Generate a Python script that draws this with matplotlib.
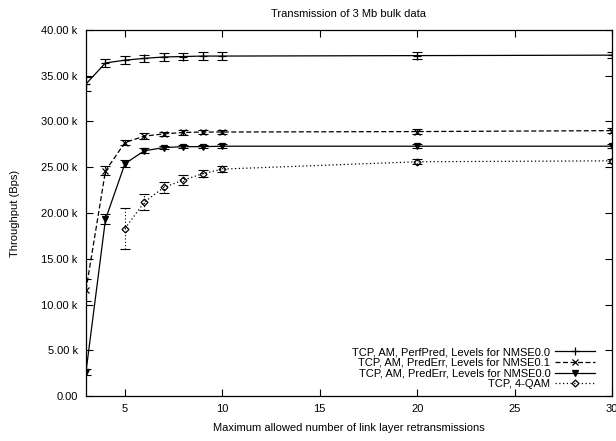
import numpy as np
import matplotlib
matplotlib.use('Agg')
import matplotlib.pyplot as plt
from matplotlib.ticker import FuncFormatter

plt.rcParams['font.family'] = ['Liberation Sans', 'DejaVu Sans']

retrans = [3, 4, 5, 6, 7, 8, 9, 10, 20, 30]

perfpred_00 = [34100, 36400, 36700, 36900, 37050, 37100, 37150, 37150, 37200, 37250]
perfpred_00_err = [800, 450, 450, 400, 400, 400, 400, 400, 350, 350]

prederr_01 = [11600, 24600, 27700, 28400, 28650, 28800, 28850, 28850, 28900, 29000]
prederr_01_err = [1200, 500, 300, 300, 250, 250, 250, 250, 250, 250]

prederr_00 = [2650, 19300, 25400, 26800, 27150, 27250, 27250, 27300, 27300, 27300]
prederr_00_err = [300, 550, 350, 250, 200, 200, 200, 200, 200, 200]

qam_x = [5, 6, 7, 8, 9, 10, 20, 30]
qam4 = [18300, 21200, 22800, 23600, 24300, 24800, 25600, 25700]
qam4_err = [2200, 900, 600, 500, 400, 300, 250, 250]

labels = ['TCP, AM, PerfPred, Levels for NMSE0.0',
          'TCP, AM, PredErr, Levels for NMSE0.1',
          'TCP, AM, PredErr, Levels for NMSE0.0',
          'TCP, 4-QAM']

fig = plt.figure(figsize=(6.16, 4.41), dpi=100)
ax = fig.add_axes([0.1396, 0.102, 0.8539, 0.830])

series = [
    (retrans, perfpred_00, perfpred_00_err, '-', '+', 'k', 6),
    (retrans, prederr_01, prederr_01_err, (0, (4, 2)), 'x', 'k', 5),
    (retrans, prederr_00, prederr_00_err, '-', 'v', 'k', 5),
    (qam_x, qam4, qam4_err, (0, (1, 2)), 'D', 'none', 3.5),
]

for (x, y, e, ls, mk, fc, ms), lab in zip(series, labels):
    eb = ax.errorbar(x, y, yerr=e, fmt='none', ecolor='black', elinewidth=0.8,
                     capsize=3.5, capthick=0.8)
    eb[2][0].set_linestyle(ls)
    ax.plot(x, y, linestyle=ls, color='black', linewidth=0.9, marker=mk,
            markersize=ms, markerfacecolor=fc, markeredgecolor='black',
            markeredgewidth=0.9, label=lab)

ax.set_xlim(3, 30)
ax.set_ylim(0, 40000)
ax.set_xticks([5, 10, 15, 20, 25, 30])
ax.set_yticks(np.arange(0, 40001, 5000))
ax.yaxis.set_major_formatter(FuncFormatter(
    lambda v, p: '0.00' if v == 0 else f'{v / 1000:.2f} k'))
ax.tick_params(direction='in', top=True, right=True, length=5, width=0.8,
               labelsize=8, pad=6)
for s in ax.spines.values():
    s.set_linewidth(0.9)

ax.set_title('Transmission of 3 Mb bulk data', fontsize=8, pad=9)
ax.set_xlabel('Maximum allowed number of link layer retransmissions', fontsize=8, labelpad=6)
ax.set_ylabel('Throughput (Bps)', fontsize=8, labelpad=15)

ax.legend(loc='lower right', frameon=False, markerfirst=False, numpoints=1,
          fontsize=8, handlelength=3.6, handletextpad=0.4, labelspacing=0.05,
          borderaxespad=0.3, bbox_to_anchor=(0.982, -0.002))

fig.savefig('out.png', dpi=100)
